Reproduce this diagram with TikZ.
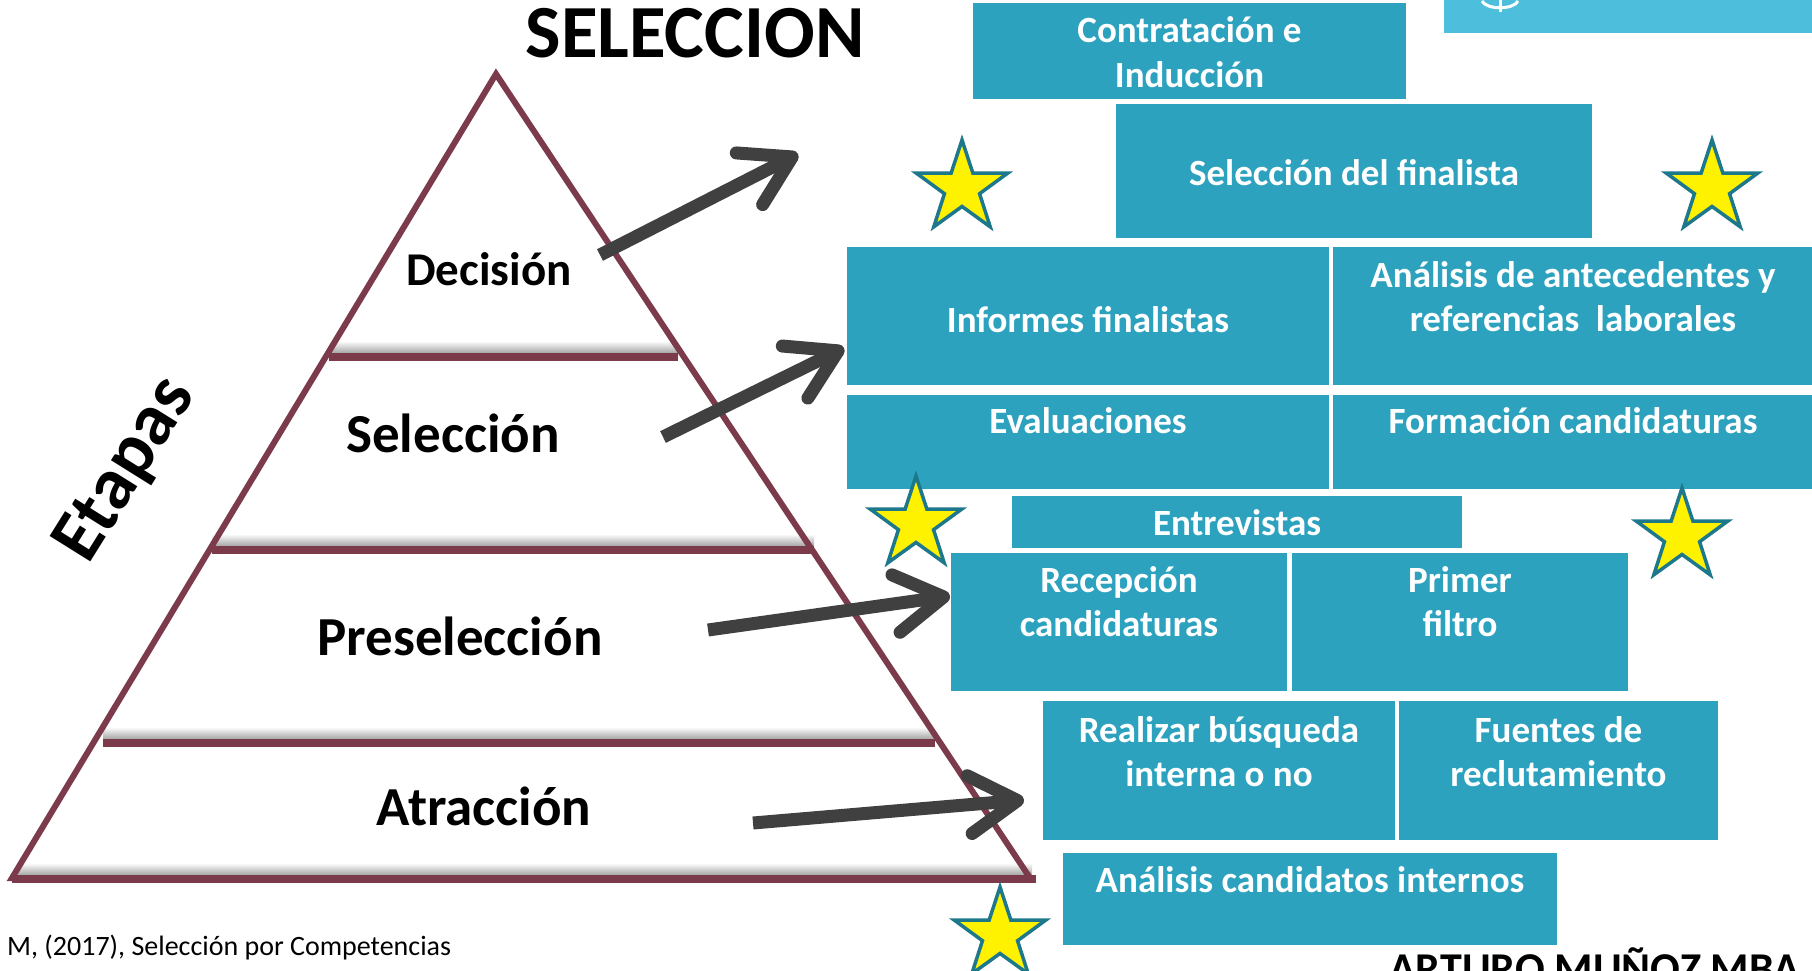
\documentclass[tikz,border=0pt]{standalone}
\usepackage{fontspec}
\setmainfont{Carlito}
\usetikzlibrary{arrows.meta, positioning, shapes.geometric}

\definecolor{boxteal}{HTML}{2CA2BF}
\definecolor{logoblue}{HTML}{4DBEDC}
\definecolor{pyrline}{HTML}{7B3B4A}
\definecolor{arrowgray}{HTML}{404040}
\definecolor{starline}{HTML}{1E788C}

\tikzset{
  box/.style={rectangle, fill=boxteal, draw=white, line width=2pt, inner sep=0pt, outer sep=0pt, anchor=north west},
  boxtxt/.style={text=white, font=\fontsize{37}{44.5}\selectfont\bfseries, align=center, anchor=base, inner sep=0pt},
  stagetxt/.style={font=\fontsize{55}{60}\selectfont\bfseries, anchor=base, inner sep=0pt},
  gold/.style={star, star points=5, star point ratio=2.6, minimum size=96pt, fill=yellow, draw=starline, line width=3.5pt, inner sep=0pt},
  sepline/.style={pyrline, line width=8pt},
  bigarrow/.style={arrowgray, line width=13pt, -{Straight Barb[length=48pt, width=58pt, round]}},
}

\begin{document}
\begin{tikzpicture}[x=1pt, y=-1pt]
    \useasboundingbox (0,0) rectangle (1812,971);
    \clip (0,0) rectangle (1812,971);

    % pyramid
    \coordinate (apex) at (496,74);
    \coordinate (base-l) at (12,878);
    \coordinate (base-r) at (1030,878);
    \foreach \y/\xa/\xb in {357/329/678, 550/212/814, 743/103/935, 879/18/1032}
        \shade[top color=white, bottom color=black!35] (\xa,\y-16) rectangle (\xb,\y-4);
    \draw[pyrline, line width=6pt, line join=miter] (apex) -- (base-l) -- (base-r) -- cycle;
    \draw[pyrline, line width=8pt] (12,879) -- (1036,879);
    \draw[sepline] (329,357) -- (678,357);
    \draw[sepline] (212,550) -- (814,550);
    \draw[sepline] (103,743) -- (935,743);

    \node[stagetxt, font=\fontsize{47}{52}\selectfont\bfseries] (decision) at (489,285) {Decisión};
    \node[stagetxt] (seleccion) at (453,452) {Selección};
    \node[stagetxt] (preseleccion) at (460,655) {Preselección};
    \node[stagetxt] (atraccion) at (484,825) {Atracción};
    \node[stagetxt, font=\fontsize{74}{80}\selectfont\bfseries, rotate=58] (etapas) at (142,480) {Etapas};

    \node[font=\fontsize{75}{80}\selectfont\bfseries, anchor=base, inner sep=0pt] (title) at (695,58) {SELECCION};

    % logo strip
    \node[box, fill=logoblue, draw=none, minimum width=368pt, minimum height=33pt] (logo) at (1444,0) {};
    \draw[white, line width=3pt] (1482,1) .. controls (1486,10) and (1514,10) .. (1518,1);
    \draw[white, line width=3pt] (1500,0) -- (1500,12);

    % boxes
    \node[box, minimum width=478pt, minimum height=136pt] (finalista) at (1115,103) {};
    \node[box, minimum width=435pt, minimum height=98pt] (contrat) at (972,2) {};
    \node[box, minimum width=484pt, minimum height=140pt] (informes) at (846,246) {};
    \node[box, minimum width=482pt, minimum height=140pt] (antec) at (1332,246) {};
    \node[box, minimum width=484pt, minimum height=96pt] (evalua) at (846,394) {};
    \node[box, minimum width=482pt, minimum height=96pt] (formac) at (1332,394) {};
    \node[box, minimum width=338pt, minimum height=140pt] (recep) at (950,552) {};
    \node[box, minimum width=338pt, minimum height=140pt] (primer) at (1291,552) {};
    \node[box, minimum width=452pt, minimum height=54pt] (entrev) at (1011,495) {};
    \node[box, minimum width=354pt, minimum height=141pt] (realiz) at (1042,700) {};
    \node[box, minimum width=321pt, minimum height=141pt] (fuentes) at (1398,700) {};
    \node[box, minimum width=496pt, minimum height=94pt] (internos) at (1062,852) {};

    % base of a two-line text is its last line
    \node[boxtxt] (contrat-t) at ([yshift=-85.5pt]contrat.north) {Contratación e\\Inducción};
    \node[boxtxt] (finalista-t) at ([yshift=-82pt]finalista.north) {Selección del finalista};
    \node[boxtxt] (informes-t) at ([yshift=-86pt]informes.north) {Informes finalistas};
    \node[boxtxt] (antec-t) at ([yshift=-85.5pt]antec.north) {Análisis de antecedentes y\\referencias~ laborales};
    \node[boxtxt] (evalua-t) at ([yshift=-39pt]evalua.north) {Evaluaciones};
    \node[boxtxt] (formac-t) at ([yshift=-39pt]formac.north) {Formación candidaturas};
    \node[boxtxt] (entrev-t) at ([yshift=-40pt]entrev.north) {Entrevistas};
    \node[boxtxt] (recep-t) at ([yshift=-84.5pt]recep.north) {Recepción\\candidaturas};
    \node[boxtxt] (primer-t) at ([yshift=-84.5pt]primer.north) {Primer\\filtro};
    \node[boxtxt] (realiz-t) at ([yshift=-86.5pt]realiz.north) {Realizar búsqueda\\interna o no};
    \node[boxtxt] (fuentes-t) at ([yshift=-86.5pt]fuentes.north) {Fuentes de\\reclutamiento};
    \node[boxtxt] (internos-t) at ([yshift=-40pt]internos.north) {Análisis candidatos internos};

    % stars
    \node[gold] (star1) at (962,188) {};
    \node[gold] (star2) at (1712,188) {};
    \node[gold] (star3) at (916,524) {};
    \node[gold] (star4) at (1682,536) {};
    \node[gold] (star5) at (1000,935) {};

    % arrows
    \coordinate (dec-tail) at (600,255);  \coordinate (dec-tip) at (798,154);
    \coordinate (sel-tail) at (663,437);  \coordinate (sel-tip) at (844,348);
    \coordinate (pre-tail) at (708,630);  \coordinate (pre-tip) at (950,596);
    \coordinate (atr-tail) at (753,823);  \coordinate (atr-tip) at (1024,800);
    \draw[bigarrow] (dec-tail) -- (dec-tip);
    \draw[bigarrow] (sel-tail) -- (sel-tip);
    \draw[bigarrow] (pre-tail) -- (pre-tip);
    \draw[bigarrow] (atr-tail) -- (atr-tip);

    \node[font=\fontsize{28}{32}\selectfont, anchor=base west, inner sep=0pt] (cita) at (7,955) {M, (2017), Selección por Competencias};
    \node[font=\fontsize{44}{48}\selectfont\bfseries, anchor=base west, inner sep=0pt] (autor) at (1389,983) {ARTURO MUÑOZ MBA};
\end{tikzpicture}
\end{document}
